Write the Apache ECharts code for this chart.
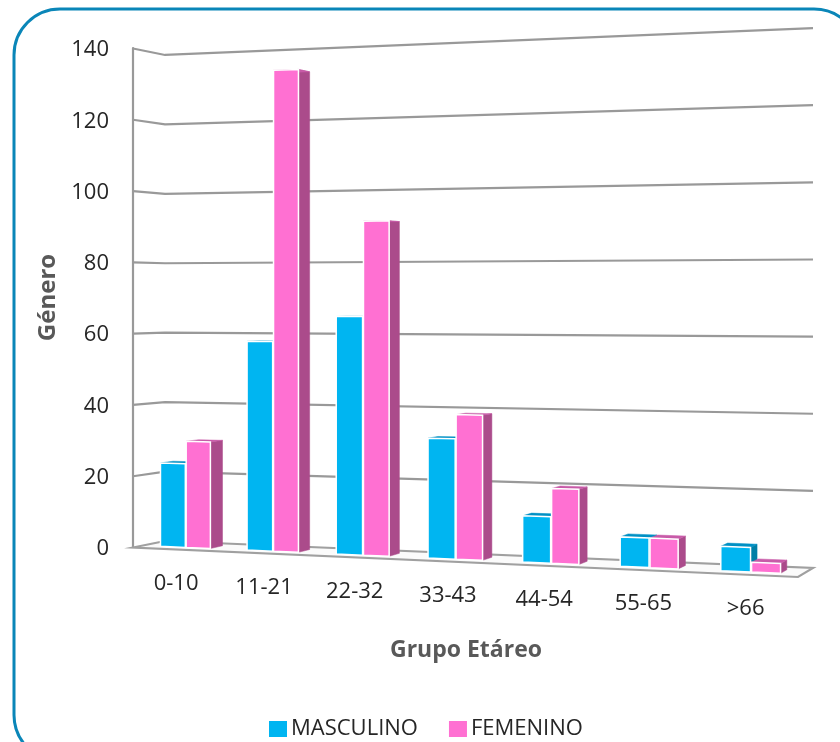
<!DOCTYPE html>
<html><head><meta charset="utf-8">
<style>html,body{margin:0;padding:0;background:#fff}#c{width:840px;height:742px}</style>
<script src="https://cdn.jsdelivr.net/npm/echarts@6/dist/echarts.min.js"></script>
</head><body><div id="c"></div>
<script>
const categories = ['0-10','11-21','22-32','33-43','44-54','55-65','>66'];
const masculino = [23.5, 58, 65, 32.3, 12.3, 7.7, 6.3];
const femenino = [29.8, 133, 91, 38.8, 19.8, 7.7, 2.5];
const yTicks = [0,20,40,60,80,100,120,140];

const FONT = '"Open Sans", sans-serif';
const chart = echarts.init(document.getElementById('c'));

// Perspective view of the cartesian grid: u along the axis, w into the depth, lift = pixels above baseline
function view(u, lift, w) {
  const U = u * 0.9 / (1 - 0.1 * u);
  const fx = 133 + 665 * U, fy = 547.5 + 29.5 * U;
  const bx = 165 + 648 * U, by = 541 + 27 * U;
  const fk = 1 + 0.114 * U, bk = 0.974 + 0.108 * U;
  return [fx + (bx - fx) * w, fy + (by - fy) * w - lift * (fk + (bk - fk) * w)];
}
function poly(points, fill, stroke, lw) {
  return {type:'polygon', shape:{points}, style:{fill, stroke: stroke || fill, lineWidth: lw === undefined ? 0.5 : lw}};
}
function wallItem(params, api) {
  const cs = params.coordSys, base = cs.y + cs.height;
  const lift = base - api.coord([0, api.value(1)])[1];
  const pts = [view(0,lift,0), view(0,lift,1), view(1,lift,1)];
  const kids = [];
  if (api.value(1) === 0) {
    kids.push({type:'polygon', shape:{points:[view(0,0,0),view(0,0,1),view(1,0,1),view(1,0,0)]},
      style:{fill:'#fbfbfb', stroke:'#a0a0a0', lineWidth:2.2}});
  } else {
    kids.push({type:'polyline', shape:{points:pts}, style:{fill:'none', stroke:'#999999', lineWidth:2.2}});
  }
  return {type:'group', children:kids};
}
function barRenderer(off0, off1, front, top, side) {
  return function (params, api) {
    const cs = params.coordSys, base = cs.y + cs.height;
    const c = api.coord([api.value(0), api.value(1)]);
    const band = api.size([1, 0])[0];
    const lift = base - c[1];
    const u0 = (c[0] + off0 * band - cs.x) / cs.width;
    const u1 = (c[0] + off1 * band - cs.x) / cs.width;
    const wF = 0.3, wB = 0.7;
    return {type:'group', children:[
      poly([view(u1,0,wF),view(u1,0,wB),view(u1,lift,wB),view(u1,lift,wF)], side),
      poly([view(u0,lift,wF),view(u1,lift,wF),view(u1,lift,wB),view(u0,lift,wB)], top),
      poly([view(u0,0,wF),view(u1,0,wF),view(u1,lift,wF),view(u0,lift,wF)], front, '#ffffff', 1.5)
    ]};
  };
}
function labelItem(params, api) {
  const cs = params.coordSys;
  const c = api.coord([api.value(0), 0]);
  const p = view((c[0] - cs.x) / cs.width, 0, 0);
  return {type:'text', style:{text:categories[api.value(0)], x:p[0], y:p[1] + 34,
    textAlign:'center', textVerticalAlign:'middle', fill:'#262626', font:'22px ' + FONT}};
}
chart.setOption({
  animation:false,
  backgroundColor:'#ffffff',
  graphic:[{type:'rect', z:-10, shape:{x:14, y:9, width:846, height:752, r:46},
    style:{fill:'#ffffff', stroke:'#0a86b8', lineWidth:3}}],
  grid:{left:133, top:48, width:680, height:499},
  legend:{left:264, top:713, itemWidth:18, itemHeight:16, itemGap:31, icon:'rect',
    data:['MASCULINO','FEMENINO'],
    textStyle:{fontFamily:FONT, fontSize:22, color:'#262626', padding:[0,0,0,-1]}},
  xAxis:{type:'category', data:categories,
    axisLine:{show:false}, axisTick:{show:false}, axisLabel:{show:false}, splitLine:{show:false},
    name:'Grupo Etáreo', nameLocation:'middle', nameGap:92,
    nameTextStyle:{fontFamily:FONT, fontSize:23, fontWeight:'bold', color:'#595959', padding:[0,14,0,0]}},
  yAxis:{type:'value', min:0, max:140, interval:20,
    axisLine:{show:true, lineStyle:{color:'#999999', width:2.2}}, axisTick:{show:false}, splitLine:{show:false},
    axisLabel:{margin:24, formatter:'{a|{value}}',
      rich:{a:{fontFamily:FONT, fontSize:22, color:'#262626', padding:[4,0,0,0]}}},
    name:'Género', nameLocation:'middle', nameGap:72,
    nameTextStyle:{fontFamily:FONT, fontSize:24, fontWeight:'bold', color:'#595959'}},
  series:[
    {type:'custom', name:'walls', silent:true, z:1, renderItem:wallItem,
      data:yTicks.map(v => [0, v]), encode:{x:0, y:1}},
    {type:'custom', name:'MASCULINO', silent:true, z:2, itemStyle:{color:'#00B5F1'},
      renderItem:barRenderer(-0.29, 0, '#00B5F1', '#0090C4', '#007FA6'),
      data:masculino.map((v,i) => [i, v]), encode:{x:0, y:1}},
    {type:'custom', name:'FEMENINO', silent:true, z:3, itemStyle:{color:'#FF70D2'},
      renderItem:barRenderer(0.01, 0.29, '#FF70D2', '#C85AA8', '#AB4B8B'),
      data:femenino.map((v,i) => [i, v]), encode:{x:0, y:1}},
    {type:'custom', name:'labels', silent:true, z:4, renderItem:labelItem,
      data:categories.map((c,i) => [i, 0]), encode:{x:0, y:1}}
  ]
});
</script></body></html>
